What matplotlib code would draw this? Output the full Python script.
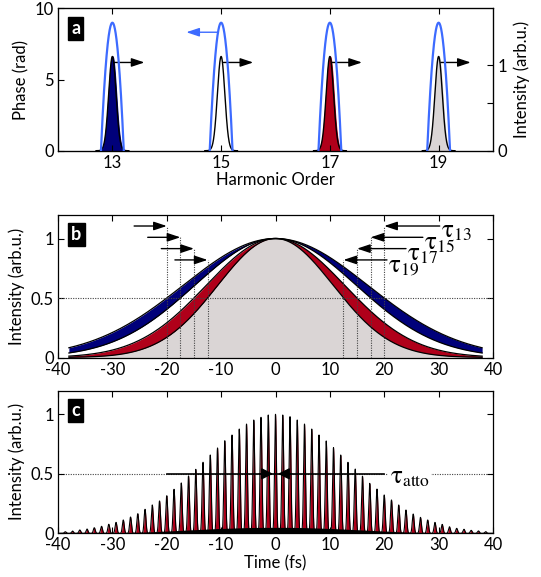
import numpy as np
import matplotlib
matplotlib.use('Agg')
import matplotlib.pyplot as plt

plt.rcParams['font.family'] = ['Lato', 'DejaVu Sans']
plt.rcParams['mathtext.fontset'] = 'stix'
plt.rcParams['font.size'] = 12
plt.rcParams['axes.unicode_minus'] = False

NAVY = '#00007a'
RED = '#b0001a'
GRAY = '#dad5d5'
BLUE = '#3d6bff'

# ---------------- Panel a data ----------------
harmonics = [13, 15, 17, 19]
harmonic_fill = [NAVY, 'white', RED, GRAY]
phase_peak = [9.0, 9.0, 9.0, 9.0]            # rad
phase_halfwidth = [0.21, 0.21, 0.21, 0.21]   # harmonic-order units
intensity_peak = [1.1, 1.1, 1.1, 1.1]        # arb.u.
intensity_fwhm = [0.16, 0.16, 0.16, 0.16]    # harmonic-order units
intensity_arrow_y = 1.03
intensity_arrow_len = 0.55
phase_arrow_y = 8.33
phase_arrow_from = 14.95
phase_arrow_to = 14.36

# ---------------- Panel b data ----------------
tau_names = ['13', '15', '17', '19']
tau_hwhm = [20.0, 17.5, 15.0, 12.5]          # half width at half max (fs)
band_colors = [NAVY, 'white', RED, GRAY]
b_arrow_y = [1.105, 1.01, 0.915, 0.82]
b_left_tail = [-26.0, -23.5, -21.0, -18.5]
b_right_tail = [30.2, 27.1, 24.0, 20.5]
b_tmax = 38.0

# ---------------- Panel c data ----------------
pulse_spacing = 1.333                         # fs
pulse_k = list(range(-29, 30))
pulse_height = [0.013, 0.019, 0.028, 0.036, 0.047, 0.059, 0.076, 0.092, 0.112, 0.137,
                0.165, 0.202, 0.238, 0.272, 0.316, 0.370, 0.423, 0.482, 0.538, 0.597,
                0.658, 0.717, 0.778, 0.826, 0.876, 0.918, 0.952, 0.975, 0.994, 1.000,
                0.994, 0.980, 0.952, 0.918, 0.876, 0.826, 0.776, 0.720, 0.658, 0.597,
                0.540, 0.480, 0.420, 0.372, 0.322, 0.280, 0.238, 0.196, 0.162, 0.134,
                0.112, 0.092, 0.075, 0.055, 0.042, 0.034, 0.025, 0.020, 0.014]
pulse_floor = [0.0, 0.0, 0.0, 0.0, 0.0, 0.002, 0.003, 0.004, 0.005, 0.007,
               0.009, 0.011, 0.013, 0.016, 0.019, 0.022, 0.025, 0.028, 0.031, 0.034,
               0.037, 0.040, 0.042, 0.044, 0.046, 0.048, 0.049, 0.050, 0.050, 0.050,
               0.050, 0.050, 0.049, 0.048, 0.046, 0.044, 0.042, 0.040, 0.037, 0.034,
               0.031, 0.028, 0.025, 0.022, 0.019, 0.016, 0.013, 0.011, 0.009, 0.007,
               0.005, 0.004, 0.003, 0.002, 0.0, 0.0, 0.0, 0.0, 0.0]
pulse_sigma = 0.17                            # fs
atto_head = 0.45

fig = plt.figure(figsize=(5.41, 5.77), dpi=100)

AX_L, AX_W = 58 / 541, 435 / 541

def style(ax, top=True, right=True):
    ax.tick_params(direction='in', length=4, width=0.8, top=top, right=right,
                   labelsize=12, pad=3)
    for s in ax.spines.values():
        s.set_linewidth(0.9)

def panel_label(ax, s, x, y):
    ax.text(x, y, s, transform=ax.transAxes, color='white', fontsize=13,
            fontweight='bold', ha='left', va='top',
            bbox=dict(boxstyle='square,pad=0.18', fc='black', ec='black'), zorder=10)

def arrow(ax, x0, y0, x1, y1, color='black', hl=0.6, hw=0.2, ms=13, lw=1.0):
    ax.annotate('', xy=(x1, y1), xytext=(x0, y0),
                arrowprops=dict(arrowstyle=f'-|>,head_length={hl},head_width={hw}',
                                mutation_scale=ms, lw=lw, color=color,
                                shrinkA=0, shrinkB=0), zorder=6)

# ================= Panel a =================
axa = fig.add_axes([AX_L, 0.7388, AX_W, 0.2465])
axa2 = axa.twinx()
for h, pk, hw in zip(harmonics, phase_peak, phase_halfwidth):
    xp = np.linspace(h - hw, h + hw, 301)
    u = (xp - h) / hw
    axa.plot(xp, pk * (1 - u**2), color=BLUE, lw=1.6, zorder=3)
axa.set_xlim(12, 20)
axa.set_ylim(0, 10)
axa.set_yticks([0, 5, 10])
axa.set_xticks(harmonics)
axa.set_ylabel('Phase (rad)', fontsize=12, labelpad=4)
axa.set_xlabel('Harmonic Order', fontsize=12, labelpad=1)
style(axa, top=True, right=False)
arrow(axa, phase_arrow_from, phase_arrow_y, phase_arrow_to, phase_arrow_y, color=BLUE)

for h, pk, fw, fc in zip(harmonics, intensity_peak, intensity_fwhm, harmonic_fill):
    sig = fw / 2.3548
    xi = np.linspace(h - 0.3, h + 0.3, 401)
    yi = pk * np.exp(-0.5 * ((xi - h) / sig) ** 2)
    axa2.fill_between(xi, 0, yi, color=fc, zorder=2)
    axa2.plot(xi, yi, color='black', lw=1.0, zorder=3)
    arrow(axa2, h + 0.04, intensity_arrow_y, h + 0.04 + intensity_arrow_len, intensity_arrow_y)
axa2.set_ylim(0, 1.66)
axa2.set_yticks([0, 0.557, 1])
axa2.set_yticklabels(['0', '', '1'])
axa2.set_ylabel('Intensity (arb.u.)', fontsize=12, labelpad=4)
axa2.tick_params(direction='in', length=4, width=0.8, labelsize=12)
axa.set_zorder(axa2.get_zorder() + 1)
axa.patch.set_visible(False)
panel_label(axa, 'a', 0.03, 0.92)

# ================= Panel b =================
axb = fig.add_axes([AX_L, 0.3804, AX_W, 0.2475])
t = np.linspace(-b_tmax, b_tmax, 2001)
curves = [np.exp(-np.log(2) * (t / hw) ** 2) for hw in tau_hwhm]
for i in range(4):
    lower = curves[i + 1] if i < 3 else np.zeros_like(t)
    axb.fill_between(t, lower, curves[i], color=band_colors[i], lw=0, zorder=2)
for c in curves:
    axb.plot(t, c, color='black', lw=0.9, zorder=3)
axb.axhline(0.5, color='#444444', lw=0.8, ls=(0, (1, 1.2)), zorder=4)
for i, (hw, ay) in enumerate(zip(tau_hwhm, b_arrow_y)):
    for sx in (-hw, hw):
        axb.plot([sx, sx], [0, ay], color='#444444', lw=0.8, ls=(0, (1, 1.2)), zorder=4)
    arrow(axb, b_left_tail[i], ay, -hw, ay)
    arrow(axb, b_right_tail[i], ay, hw, ay)
    axb.text(b_right_tail[i] + 0.2, ay - 0.05, r'$\mathrm{\tau}_{\mathrm{%s}}$' % tau_names[i],
             fontsize=18, ha='left', va='center', zorder=7)
axb.set_xlim(-40, 40)
axb.set_ylim(0, 1.2)
axb.set_xticks(np.arange(-40, 41, 10))
axb.set_yticks([0, 0.5, 1])
axb.set_yticklabels(['0', '0.5', '1'])
axb.set_ylabel('Intensity (arb.u.)', fontsize=12, labelpad=4)
style(axb)
panel_label(axb, 'b', 0.03, 0.92)

# ================= Panel c =================
axc = fig.add_axes([AX_L, 0.0757, AX_W, 0.2475])
tc = np.linspace(-40, 40, 16001)
tk = np.array(pulse_k) * pulse_spacing
yc = np.zeros_like(tc)
for tt, hh in zip(tk, pulse_height):
    yc += hh * np.exp(-0.5 * ((tc - tt) / pulse_sigma) ** 2)
floor = np.interp(tc, tk, pulse_floor, left=0, right=0)
axc.fill_between(tc, 0, yc, color=RED, lw=0, zorder=2)
axc.fill_between(tc, 0, floor, color='black', lw=0, zorder=3)
axc.plot(tc, yc, color='black', lw=0.8, zorder=4)
axc.axhline(0.5, color='#444444', lw=0.8, ls=(0, (1, 1.2)), zorder=1)
axc.plot([-20, 20], [0.5, 0.5], color='black', lw=1.2, zorder=5)
arrow(axc, -3, 0.5, -atto_head, 0.5, hl=0.5, hw=0.25, ms=14)
arrow(axc, 3, 0.5, atto_head, 0.5, hl=0.5, hw=0.25, ms=14)
axc.text(21.0, 0.47, r'$\mathrm{\tau}_{\mathrm{atto}}$', fontsize=18, ha='left', va='center',
         zorder=7, bbox=dict(boxstyle='square,pad=0.05', fc='white', ec='none'))
axc.set_xlim(-40, 40)
axc.set_ylim(0, 1.2)
axc.set_xticks(np.arange(-40, 41, 10))
axc.set_yticks([0, 0.5, 1])
axc.set_yticklabels(['0', '0.5', '1'])
axc.set_ylabel('Intensity (arb.u.)', fontsize=12, labelpad=4)
axc.set_xlabel('Time (fs)', fontsize=12, labelpad=1)
style(axc)
panel_label(axc, 'c', 0.03, 0.92)

fig.savefig('out.png', dpi=100)
